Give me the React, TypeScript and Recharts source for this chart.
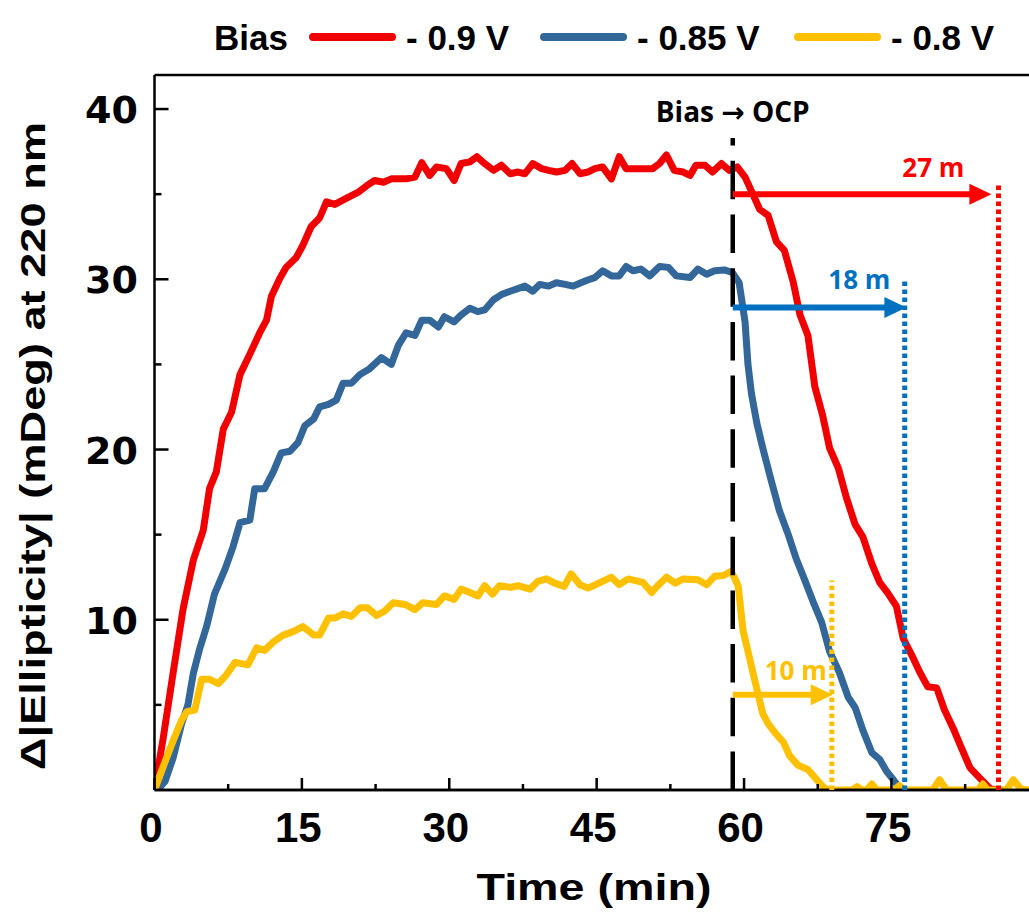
import React from 'react';
import { LineChart, Line, XAxis, YAxis, ReferenceLine, Legend } from 'recharts';

// ---------------- data ----------------
const seriesNames = ['- 0.9 V', '- 0.85 V', '- 0.8 V'];
const legendTitle = 'Bias';
const xAxisTitle = 'Time (min)';
const yAxisTitle = 'Δ|Ellipticity| (mDeg) at 220 nm';
const switchLabel = 'Bias → OCP';

const redTime = [0,0.9,1.9,2.9,3.95,4.96,5.6,6.3,7.0,7.85,8.7,9.7,10.7,11.4,11.9,12.75,13.4,14.45,15.1,15.95,16.8,17.5,18.35,19.5,20.7,21.6,22.4,23.3,24.1,25.6,26.5,27.2,28.0,28.7,29.7,30.5,31.2,32.1,32.8,33.6,34.5,35.3,36.2,37.0,37.7,38.5,39.4,40.1,40.9,41.8,42.5,43.3,44.1,44.8,45.6,46.5,47.3,48.0,49.0,49.9,50.7,51.4,52.1,52.9,53.8,54.5,55.1,56.0,56.8,57.7,58.5,59.3,60.1,60.9,61.6,62.45,63.3,64.1,65.0,65.7,66.5,67.2,68.0,68.7,69.6,70.4,71.3,72.1,73.0,73.8,74.65,75.5,76.2,77.0,77.9,78.7,79.6,80.4,81.3,82.1,83.0,84.0,85.0,85.7];
const redValue = [0,3.1,6.9,10.6,13.5,15.25,17.7,18.7,21.2,22.2,24.4,25.6,26.85,27.6,29.0,30.05,30.7,31.3,32.0,33.1,33.6,34.55,34.4,34.75,35.1,35.5,35.8,35.7,35.9,35.9,36.0,36.85,36.1,36.6,36.5,35.8,36.8,36.9,37.2,36.8,36.4,36.7,36.2,36.3,36.2,36.8,36.5,36.4,36.3,36.4,36.8,36.2,36.3,36.5,36.6,35.9,37.2,36.5,36.5,36.5,36.5,36.8,37.3,36.4,36.3,36.1,36.7,36.7,36.3,36.8,36.4,36.6,36.0,35.0,34.1,33.75,32.2,31.7,29.85,27.9,26.7,23.7,22.0,20.1,18.9,17.2,15.6,14.85,13.3,12.2,11.55,10.8,8.9,8.0,6.9,6.06,6.0,4.7,3.6,2.5,1.3,0.7,0.1,0];

const blueTime = [0.3,1.07,1.9,2.76,3.4,3.95,4.6,5.3,6.1,7.2,8.0,8.7,9.7,10.2,11.2,12.1,12.9,13.8,14.6,15.3,16.2,16.8,17.7,18.5,19.2,20.05,20.9,21.9,23.1,24.1,24.8,25.6,26.5,27.2,28.0,28.9,29.5,30.5,31.2,32.1,32.9,33.6,34.5,35.3,36.2,37.7,38.5,39.2,40.1,40.9,41.8,42.6,43.4,44.1,44.8,45.6,46.5,47.3,48.0,48.7,49.5,50.4,51.4,52.3,53.1,54.5,55.3,56.2,57.0,58.0,58.8,59.5,60.1,60.4,60.75,61.3,61.9,62.8,63.6,64.5,65.3,66.2,67.0,67.9,68.7,69.7,70.6,71.3,72.1,73.0,73.8,74.5,75.2,76.0];
const blueValue = [0,0.5,1.9,3.9,5.0,6.85,8.3,9.6,11.5,13.0,14.3,15.7,15.85,17.7,17.7,18.7,19.8,19.9,20.4,21.4,21.8,22.5,22.65,22.9,23.9,23.9,24.4,24.75,25.4,25.0,26.1,26.85,26.7,27.6,27.6,27.2,27.8,27.5,27.9,28.3,28.1,28.2,28.8,29.1,29.3,29.6,29.3,29.7,29.6,29.8,29.7,29.6,29.8,29.96,30.1,30.5,30.2,30.2,30.75,30.5,30.6,30.2,30.75,30.7,30.2,30.1,30.6,30.3,30.5,30.55,30.4,29.8,27.5,25.0,23.3,21.55,20.1,18.1,16.4,15.0,13.6,12.3,11.1,9.85,8.15,6.9,5.45,4.85,3.5,2.2,1.8,1.1,0.6,0];

const yellowTime = [0,0.9,1.9,2.76,3.3,4.1,4.8,5.6,6.5,7.3,8.2,9.5,10.4,11.2,12.1,13.1,14.1,15.1,16.2,16.8,17.7,18.35,19.2,20.05,20.9,21.7,22.6,23.4,24.3,25.5,26.5,27.3,28.7,29.5,30.5,31.2,32.1,32.9,33.6,34.4,35.1,36.2,37.0,38.2,39.0,39.9,40.7,41.7,42.4,43.3,44.1,44.9,46.5,47.3,48.2,49.7,50.6,51.2,52.1,53.0,53.8,55.3,56.2,57.0,57.9,58.7,59.4,59.9,60.4,60.9,61.4,61.9,62.45,63.1,64.0,64.65,65.5,66.5,67.4,68.2,68.7,71.0,71.5,72.0,72.5,73.0,73.5,75.3,75.8,76.3,79.2,79.9,80.6,83.8,84.3,84.8,86.7,87.4,88.1,89];
const yellowValue = [0,1.4,2.9,4.1,4.6,4.7,6.5,6.5,6.25,6.75,7.5,7.35,8.35,8.2,8.7,9.1,9.3,9.6,9.1,9.1,10.1,10.1,10.35,10.2,10.7,10.7,10.25,10.5,11.0,10.9,10.6,11.0,10.9,11.4,11.2,11.8,11.6,11.4,12.0,11.5,12.0,11.9,12.0,11.8,12.25,12.4,12.15,11.96,12.7,12.06,11.87,12.06,12.5,12.06,12.4,12.2,11.6,12.0,12.5,12.15,12.4,12.35,12.06,12.55,12.6,12.85,12.0,9.35,8.15,6.9,5.7,4.5,3.9,3.4,2.8,2.0,1.45,1.2,0.6,0.1,0,0,0.2,0,0,0.35,0,0,0.25,0,0,0.6,0,0,0.35,0,0,0.6,0.1,0];

const xTicks = [0,7.5,15,22.5,30,37.5,45,52.5,60,67.5,75,82.5];
const yTicks = [5,10,15,20,25,30,35,40];

// annotations (data units)
const switchTime = 58.85;
const switchTop = 38.3;
const recoveryLabels = ['27 m', '18 m', '10 m'];
const arrowLevel = [35.0, 28.35, 5.6];
const arrowEnd = [85.17, 76.52, 69.02];
const endMarkTime = [85.9, 76.35, 68.93];
const endMarkTop = [35.65, 30.03, 12.3];

// ---------------- styling ----------------
const W = 1029;
const H = 921;
const lineColors = ['#F00000', '#336699', '#FFC000'];
const markColors = ['#FF0000', '#0070C0', '#FFC000'];
const labelDx = [58, 47, 37];
const labelDy = [17, 18, 15];
const legendLineX = [313, 544, 798];
const FONT = "'Liberation Sans', Arial, sans-serif";
const CAL = "'Open Sans', 'DejaVu Sans', sans-serif";
const TOP_Z = 1500;

const toRows = (t: number[], v: number[]) => t.map((tt, i) => ({ t: tt, v: v[i] }));
const seriesData = [toRows(redTime, redValue), toRows(blueTime, blueValue), toRows(yellowTime, yellowValue)];

const XTick = (props: any) => {
  const { x, y, payload } = props;
  const v = payload.value;
  const major = Math.abs(v % 15) < 1e-6;
  return (
    <g>
      <line x1={x} x2={x} y1={y} y2={y - (major ? 12 : 6)} stroke="#000" strokeWidth={2.5} />
      {major && (
        <text x={x - 3.5} y={y + 52} textAnchor="middle" fontFamily={FONT} fontWeight="bold" fontSize={42} fill="#000">
          {String(v)}
        </text>
      )}
    </g>
  );
};

const YTick = (props: any) => {
  const { x, y, payload } = props;
  const v = payload.value;
  const major = Math.abs(v % 10) < 1e-6;
  return (
    <g>
      <line x1={x} x2={x + (major ? 14 : 7)} y1={y} y2={y} stroke="#000" strokeWidth={2.5} />
      {major && (
        <text x={x - 16.5} y={y + 14} textAnchor="end" fontFamily="'DejaVu Sans', sans-serif" fontWeight="bold" fontSize={38} fill="#000">
          {String(v)}
        </text>
      )}
    </g>
  );
};

const YTitle = () => (
  <text x={45} y={446} transform="rotate(-90, 45, 446)" textAnchor="middle" fontFamily={FONT} fontWeight="bold" fontSize={35}
    textLength={648} lengthAdjust="spacingAndGlyphs" fill="#000">
    {yAxisTitle}
  </text>
);

const XTitle = () => (
  <text x={594} y={900} textAnchor="middle" fontFamily={FONT} fontWeight="bold" fontSize={36}
    textLength={235} lengthAdjust="spacingAndGlyphs" fill="#000">
    {xAxisTitle}
  </text>
);

const makeArrow = (i: number) => (p: any) => {
  const { x1, y1, x2, y2 } = p;
  const head = 22;
  const half = 10.5;
  const c = markColors[i];
  return (
    <g>
      <line x1={x1} y1={y1} x2={x2 - head + 1} y2={y2} stroke={c} strokeWidth={6} />
      <polygon points={`${x2},${y2} ${x2 - head},${y2 - half} ${x2 - head},${y2 + half}`} fill={c} />
      <text x={x2 - labelDx[i]} y={y2 - labelDy[i]} textAnchor="middle" fill={c} fontFamily={CAL} fontWeight={700} fontSize={26}>
        {recoveryLabels[i]}
      </text>
    </g>
  );
};

const SwitchShape = (p: any) => {
  const { x1, y1, x2, y2 } = p;
  const top = Math.min(y1, y2);
  return (
    <g>
      <line x1={x1} y1={y1} x2={x2} y2={y2} stroke="#000" strokeWidth={4.5} strokeDasharray="38.5 15.2" />
      <text x={x1} y={top - 16} textAnchor="middle" fill="#000" fontFamily={CAL} fontWeight={700} fontSize={28}>
        {switchLabel}
      </text>
    </g>
  );
};

const DottedShape = (i: number) => (p: any) => {
  const { x1, y1, x2, y2 } = p;
  return <line x1={x1} y1={y1} x2={x2} y2={y2} stroke={markColors[i]} strokeWidth={5} strokeDasharray="4.5 3.5" />;
};

const BaseLine = (p: any) => {
  const { x1, y1, x2, y2 } = p;
  return <line x1={x1} y1={y1} x2={x2} y2={y2} stroke="#000" strokeWidth={2.5} />;
};

const LegendContent = () => (
  <svg width={W} height={70} style={{ display: 'block' }}>
    <text x={214} y={50} fontFamily={FONT} fontWeight="bold" fontSize={35} fill="#000">{legendTitle}</text>
    {seriesNames.map((n, i) => (
      <g key={n}>
        <line x1={legendLineX[i]} x2={legendLineX[i] + 79} y1={37} y2={37} stroke={lineColors[i]} strokeWidth={8} strokeLinecap="round" />
        <text x={legendLineX[i] + 93} y={50} fontFamily={FONT} fontWeight="bold" fontSize={35} fill="#000">{n}</text>
      </g>
    ))}
  </svg>
);

export default function App() {
  const zProps: any = { zIndex: TOP_Z };
  return (
    <div style={{ position: 'absolute', left: 0, top: 0, width: W, height: H, background: '#fff' }}>
      <LineChart width={W} height={H} margin={{ top: 75, right: 0, bottom: 0, left: 0 }}>
        <Legend
          content={<LegendContent />}
          verticalAlign="middle"
          align="center"
          layout="horizontal"
          wrapperStyle={{ position: 'absolute', top: 0, left: 0, width: W, height: 70, margin: 0, padding: 0 }}
        />
        <XAxis
          type="number"
          dataKey="t"
          domain={[0, 89]}
          allowDataOverflow
          ticks={xTicks}
          interval={0}
          tick={<XTick />}
          tickLine={false}
          tickSize={0}
          tickMargin={0}
          height={131}
          axisLine={{ stroke: '#000', strokeWidth: 2.5 }}
          label={{ content: () => <XTitle /> }}
        />
        <YAxis
          type="number"
          domain={[0, 42]}
          allowDataOverflow
          ticks={yTicks}
          interval={0}
          tick={<YTick />}
          tickLine={false}
          tickSize={0}
          tickMargin={0}
          width={154.5}
          axisLine={{ stroke: '#000', strokeWidth: 2.5 }}
          label={{ content: () => <YTitle /> }}
        />
        <ReferenceLine y={42} stroke="#000" strokeWidth={2.5} />
        {seriesData.map((d, i) => (
          <Line
            key={seriesNames[i]}
            data={d}
            dataKey="v"
            name={seriesNames[i]}
            type="linear"
            stroke={lineColors[i]}
            strokeWidth={7}
            strokeLinejoin="round"
            dot={false}
            activeDot={false}
            isAnimationActive={false}
          />
        ))}
        <ReferenceLine y={0} shape={BaseLine} {...zProps} />
        <ReferenceLine
          segment={[{ x: switchTime, y: 0 }, { x: switchTime, y: switchTop }]}
          shape={SwitchShape}
          {...zProps}
        />
        {recoveryLabels.map((l, i) => (
          <ReferenceLine
            key={'mark' + l}
            segment={[{ x: endMarkTime[i], y: 0 }, { x: endMarkTime[i], y: endMarkTop[i] }]}
            shape={DottedShape(i)}
            {...zProps}
          />
        ))}
        {recoveryLabels.map((l, i) => (
          <ReferenceLine
            key={'arrow' + l}
            segment={[{ x: switchTime, y: arrowLevel[i] }, { x: arrowEnd[i], y: arrowLevel[i] }]}
            shape={makeArrow(i)}
            {...zProps}
          />
        ))}
      </LineChart>
    </div>
  );
}
